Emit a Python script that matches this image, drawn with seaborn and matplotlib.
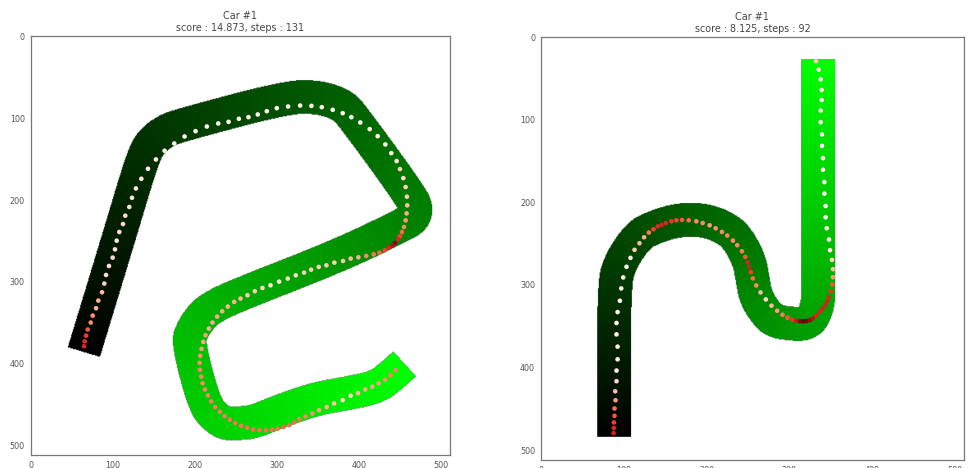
import matplotlib
matplotlib.use("Agg")
import matplotlib.pyplot as plt
import numpy as np
import pandas as pd
import seaborn as sns
from matplotlib.colors import LinearSegmentedColormap

# track centre lines, start to finish
left_track_x = [64, 105.7, 135.4, 146.3, 162.6, 180, 314, 353, 378, 389,
                465, 469, 466, 457, 376, 246.3, 218.7, 206.5, 196.3, 191,
                210.6, 224.8, 237, 249, 270.3, 302, 344.7, 385.4, 420, 438, 454.9]
left_track_y = [386, 249, 149.6, 129.3, 117, 110, 74.4, 75.6, 84.6, 94.7,
                199, 213, 222, 229, 268, 318.7, 332.5, 343.5, 359, 374.4,
                449.2, 466.1, 473.1, 473, 471.5, 458.5, 443.5, 436.2, 429, 415.8, 400.4]
right_track_x = [87.7, 87.7, 96.6, 117.5, 134.8, 157, 180.3, 205, 227, 238.6,
                 251.5, 255.5, 259.6, 272.8, 283.7, 305.8, 317.9, 328.4, 334.8, 335.6, 335]
right_track_y = [483.7, 298, 269.6, 239.4, 230.6, 223, 220, 223, 233.4, 245.5,
                 269.6, 291.8, 314.7, 335.2, 344, 346.8, 346.8, 340.4, 321.9, 302, 26.2]

# car positions and the shade of each dot
left_x = [64.6, 65.4, 67.1, 69.1, 72.8, 75.2, 79.3, 82.1, 86.6, 89.4,
          91.5, 95.1, 99.6, 102.4, 104.5, 107.7, 112.2, 115, 119.9, 123.2,
          128, 134.6, 142.7, 152.4, 163, 174.8, 187.4, 200.8, 214.6, 228.5,
          241.1, 253.7, 265.4, 276.8, 287.8, 300, 313.8, 328.5, 342.3, 354.9,
          368.3, 380.5, 391, 402, 413.4, 423.2, 432.5, 439.8, 446.3, 450.4,
          454.5, 457.3, 458.9, 459.3, 458.5, 457.3, 455.3, 452.8, 450.4, 447.6,
          444.3, 441.5, 436.6, 431.7, 425.2, 418.3, 409.3, 399.6, 390.2, 380.9,
          370.3, 360.6, 351.2, 341.9, 333.3, 323.2, 313.4, 302.8, 292.3, 282.5,
          273.2, 264.2, 255.7, 248, 240.2, 233.3, 227.2, 221.5, 217.1, 213,
          210.2, 208.1, 206.5, 205.7, 206.1, 207.7, 209.3, 212.2, 215.9, 219.9,
          224.8, 230.5, 236.2, 242.7, 249.2, 256.5, 263.8, 271.1, 278.9, 286.6,
          293.9, 300.8, 308.1, 315, 321.5, 327.6, 335, 343.5, 351.6, 361,
          369.9, 380.5, 390.2, 399.2, 408.1, 416.7, 424.4, 432.1, 439, 445.1]
left_y = [378.5, 372.5, 365.5, 358.1, 349.6, 341.1, 332.1, 322.8, 312.6, 302,
          291.5, 280.5, 270.3, 260.2, 249.6, 239, 229.3, 219.1, 208.5, 197.2,
          185.8, 174, 161.8, 150.4, 139.8, 130.9, 122.4, 115.9, 110.2, 106.5,
          104.5, 100.8, 98.8, 95.5, 91.5, 87.8, 85.8, 84.6, 85, 86.6,
          89.8, 93.9, 98.8, 105.3, 113.4, 122, 132.1, 142.7, 152.4, 162.2,
          173.2, 184.1, 195.9, 206.5, 216.3, 224.8, 232.9, 239, 244.3, 247.6,
          252.4, 255.3, 258.1, 261.4, 264.2, 266.3, 268.3, 269.9, 271.5, 274.4,
          276.4, 279.7, 281.7, 285, 288.6, 291.9, 295.9, 299.6, 304.1, 307.3,
          311.4, 316.3, 320.3, 324.4, 330.1, 335.8, 342.3, 349.6, 356.9, 365,
          373.2, 381.7, 390.2, 398.8, 407.3, 415.5, 423.6, 431.3, 438.6, 445.9,
          452.8, 458.5, 463.8, 468.3, 472.4, 475.6, 478, 480.1, 480.9, 481.3,
          480.5, 479.3, 477.2, 474.8, 471.5, 467.5, 464.2, 460.6, 456.5, 452.8,
          448.4, 444.3, 439, 435.8, 431.3, 428, 423.9, 419.5, 413.8, 407.7]
left_shade = [.7, .68, .62, .55, .4, .38, .3, .28, .25, .18,
              .15, .12, .15, .12, .1, .12, .15, .15, .12, .12,
              .1, .08, .05, .05, .05, .03, .02, .02, .02, .02,
              .02, .02, .02, .02, .02, .02, .02, .02, .02, .02,
              .02, .02, .02, .02, .02, .03, .03, .05, .08, .18,
              .15, .18, .2, .25, .3, .35, .4, .5, .6, .7,
              .95, .85, .7, .6, .5, .45, .4, .3, .25, .22,
              .2, .2, .2, .2, .2, .15, .15, .1, .08, .15,
              .2, .2, .25, .28, .28, .3, .32, .3, .28, .35,
              .3, .35, .38, .4, .42, .42, .42, .42, .42, .45,
              .45, .45, .45, .47, .47, .47, .48, .48, .48, .48,
              .48, .48, .5, .5, .5, .45, .42, .38, .33, .28,
              .22, .15, .15, .25, .3, .3, .35, .38, .42, .42]

right_x = [87.3, 87.7, 87.7, 88.5, 88.5, 89.7, 89.3, 90.9, 90.9, 92.2,
           92.2, 90.9, 90.9, 92.2, 95, 96.6, 99, 103, 107.8, 112.7,
           118.7, 124.3, 130, 135.6, 140.8, 145.3, 150.5, 157.3, 163.4, 170.2,
           178.3, 187.5, 195.2, 203.6, 210.9, 218.5, 224.9, 231.8, 237, 242.7,
           246.7, 249.5, 251.5, 253.5, 255.9, 260, 265.2, 271.6, 278.5, 285.3,
           291.8, 297.8, 303.4, 308.7, 313.1, 317.1, 321.1, 325.2, 328.8, 332.8,
           336.8, 340.4, 343.7, 346.1, 348.1, 350.5, 352.1, 352.9, 352.9, 351.7,
           349.3, 348.1, 345.3, 344, 344, 342.5, 342.5, 340.8, 340.8, 339.6,
           339.6, 338, 338, 339.2, 339.2, 338, 335.6, 332.4]
right_y = [479.3, 473.2, 466.4, 458.4, 449.5, 439.5, 428.7, 416.5, 403.6, 390,
           374.7, 359.8, 346, 332.8, 319.1, 304.2, 290.9, 278, 267.2, 257.5,
           249.5, 242.3, 236.6, 232.6, 229, 227.4, 225, 222.9, 221.7, 221.3,
           221.7, 222.9, 225, 227.8, 231.4, 235.8, 240.2, 246.3, 251.9, 259.2,
           266, 272.4, 278, 284.5, 292.1, 300.6, 309, 317.5, 325.1, 331.2,
           336, 339.6, 342, 343.3, 344, 344, 343.7, 342.4, 340.4, 336.8,
           332.4, 328.7, 324.3, 319.5, 314.3, 307.4, 299.4, 290.6, 280.9, 269.6,
           257.9, 245, 231.4, 218.1, 204.4, 189.5, 175.5, 160.6, 146.5, 131.6,
           117.9, 103, 88.9, 76.1, 64, 51.1, 39.4, 29]
right_shade = [.72, .7, .62, .55, .48, .35, .25, .15, .05, .02,
               .02, .02, .02, .02, .02, .02, .02, .02, .1, .2,
               .25, .3, .45, .6, .7, .72, .7, .65, .6, .55,
               .5, .4, .42, .35, .38, .4, .42, .4, .42, .45,
               .55, .7, .72, .62, .5, .4, .25, .15, .25, .35,
               .45, .55, .65, .75, .95, 1, .97, .9, .8, .7,
               .7, .72, .72, .72, .7, .65, .55, .35, .25, .15,
               .05, .02, .02, .02, .02, .02, .02, .02, .02, .02,
               .02, .02, .02, .02, .02, .02, .02, .2]

left_title = "Car #1\nscore : 14.873, steps : 131"
right_title = "Car #1\nscore : 8.125, steps : 92"
ticks = [0, 100, 200, 300, 400, 500]

TRACK_WIDTH = 41
IMG_SIZE = 512
track_cmap = LinearSegmentedColormap.from_list("track", ["#000000", "#00ff00"])


def round_corners(xs, ys, passes=4):
    # corner cutting, the two end points stay where they are
    pts = np.column_stack([xs, ys]).astype(float)
    for _ in range(passes):
        q = 0.75 * pts[:-1] + 0.25 * pts[1:]
        r = 0.25 * pts[:-1] + 0.75 * pts[1:]
        cut = np.empty((2 * len(q), 2))
        cut[0::2] = q
        cut[1::2] = r
        pts = np.vstack([pts[:1], cut, pts[-1:]])
    return pts[:, 0], pts[:, 1]


def square_end(px, py, end_x, end_y, inner_x, inner_y):
    # pixels just past a track end, so the end is cut flat instead of round
    behind = (px - end_x) * (inner_x - end_x) + (py - end_y) * (inner_y - end_y) < 0
    return behind & (np.hypot(px - end_x, py - end_y) < TRACK_WIDTH)


def track_image(xs, ys):
    # every pixel within half a track width of the centre line gets its progress
    px, py = np.meshgrid(np.arange(IMG_SIZE), np.arange(IMG_SIZE))
    past_ends = (square_end(px, py, xs[0], ys[0], xs[1], ys[1])
                 | square_end(px, py, xs[-1], ys[-1], xs[-2], ys[-2]))
    xs, ys = round_corners(xs, ys)
    lengths = np.hypot(np.diff(xs), np.diff(ys))
    start = np.concatenate([[0], np.cumsum(lengths)])
    best = np.full(px.shape, np.inf)
    progress = np.zeros(px.shape)
    for i in range(len(lengths)):
        dx, dy = xs[i + 1] - xs[i], ys[i + 1] - ys[i]
        t = ((px - xs[i]) * dx + (py - ys[i]) * dy) / lengths[i] ** 2
        t = np.clip(t, 0, 1)
        dist = np.hypot(px - xs[i] - t * dx, py - ys[i] - t * dy)
        closer = dist < best
        best[closer] = dist[closer]
        progress[closer] = start[i] + t[closer] * lengths[i]
    return np.ma.masked_where((best > TRACK_WIDTH / 2) | past_ends, progress / start[-1])


def draw_run(ax, track_x, track_y, xs, ys, shade, title):
    ax.imshow(track_image(track_x, track_y), cmap=track_cmap, vmin=0, vmax=1,
              interpolation="bilinear")
    df = pd.DataFrame({"x": xs, "y": ys, "shade": shade})
    sns.scatterplot(data=df, x="x", y="y", hue="shade", palette="Reds", hue_norm=(0, 1),
                    s=11, linewidth=0, legend=False, ax=ax)
    ax.set_xlim(-0.5, IMG_SIZE - 0.5)
    ax.set_ylim(IMG_SIZE - 0.5, -0.5)
    ax.set_xticks(ticks)
    ax.set_yticks(ticks)
    ax.set_xlabel("")
    ax.set_ylabel("")
    ax.set_title(title, fontsize=6.9, color="#444444", pad=3.5, linespacing=1.2)
    ax.tick_params(labelsize=5.8, length=2.5, width=0.7, pad=1.8, colors="#555555")
    for spine in ax.spines.values():
        spine.set_visible(True)
        spine.set_color("#777777")
        spine.set_linewidth(0.9)


sns.set_theme(style="white")
fig = plt.figure(figsize=(9.74, 4.68), dpi=100)
ax_left = fig.add_axes([30.7 / 974, 1 - 455.3 / 468, 419.3 / 974, 419.6 / 468])
ax_right = fig.add_axes([540.3 / 974, 1 - 459.7 / 468, 424.4 / 974, 423 / 468])
draw_run(ax_left, left_track_x, left_track_y, left_x, left_y, left_shade, left_title)
draw_run(ax_right, right_track_x, right_track_y, right_x, right_y, right_shade, right_title)
fig.savefig("out.png", dpi=100)
